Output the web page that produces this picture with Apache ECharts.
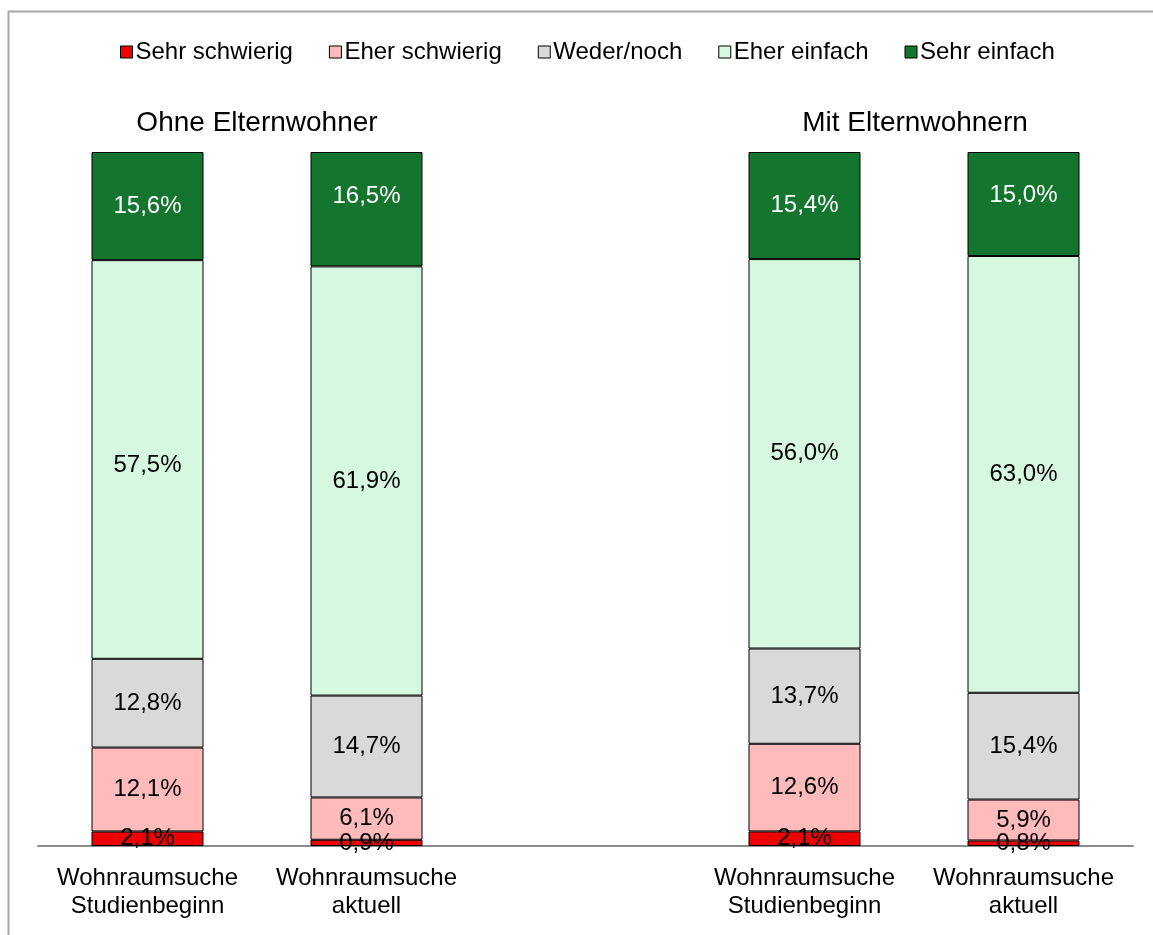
<!DOCTYPE html>
<html>
<head>
<meta charset="utf-8">
<script src="https://cdn.jsdelivr.net/npm/echarts@6/dist/echarts.min.js"></script>
<style>
  html, body { margin: 0; padding: 0; background: #fff; }
  #chart { width: 1153px; height: 935px; }
</style>
</head>
<body>
<div id="chart"></div>
<script>
// Kategorien (leere Kategorie = Lücke zwischen den Gruppen)
const categories = ['Wohnraumsuche\nStudienbeginn', 'Wohnraumsuche\naktuell', '', 'Wohnraumsuche\nStudienbeginn', 'Wohnraumsuche\naktuell']
const groupTitles = ['Ohne Elternwohner', 'Mit Elternwohnern']
const seriesNames = ['Sehr schwierig', 'Eher schwierig', 'Weder/noch', 'Eher einfach', 'Sehr einfach']

// Werte in % je Kategorie
const sehrSchwierig = [2.1, 0.9, null, 2.1, 0.8]
const eherSchwierig = [12.1, 6.1, null, 12.6, 5.9]
const wederNoch = [12.8, 14.7, null, 13.7, 15.4]
const eherEinfach = [57.5, 61.9, null, 56.0, 63.0]
const sehrEinfach = [15.6, 16.5, null, 15.4, 15.0]

const colors = ['#EE0000', '#FFBBBB', '#D9D9D9', '#D6F8E0', '#14762E']
const labelColors = ['#000', '#000', '#000', '#000', '#fff']

// kleine Verschiebungen einzelner Beschriftungen wie im Original (Serie-Kategorie: dy)
const labelShift = { '3-0': 6, '4-1': -13, '4-4': -9 }

const raw = [sehrSchwierig, eherSchwierig, wederNoch, eherEinfach, sehrEinfach]
// 100%-gestapelt: auf Summe normieren, Beschriftung zeigt Originalwert
const totals = categories.map((c, i) => raw.reduce((s, arr) => s + (arr[i] || 0), 0))

const fmt = v => v.toFixed(1).replace('.', ',') + '%'
const font = 'Liberation Sans, Arial, sans-serif'

const myChart = echarts.init(document.getElementById('chart'))

const option = {
  animation: false,
  textStyle: { fontFamily: font },
  title: [
    {
      text: groupTitles[0],
      left: 252,
      top: 104,
      textAlign: 'center',
      textStyle: { fontSize: 28, fontWeight: 'normal', color: '#000', fontFamily: font }
    },
    {
      text: groupTitles[1],
      left: 910,
      top: 104,
      textAlign: 'center',
      textStyle: { fontSize: 28, fontWeight: 'normal', color: '#000', fontFamily: font }
    }
  ],
  legend: {
    data: seriesNames,
    left: 115,
    top: 35,
    itemWidth: 12,
    itemHeight: 12,
    itemGap: 36,
    icon: 'rect',
    textStyle: { fontSize: 24, color: '#000', padding: [0, 0, 0, -2] },
    itemStyle: { borderColor: '#000', borderWidth: 1 }
  },
  grid: {
    left: 38,
    right: 20,
    top: 152,
    bottom: 89
  },
  xAxis: {
    type: 'category',
    data: categories,
    axisLine: { show: true, lineStyle: { color: '#8c8c8c', width: 2 } },
    axisTick: { show: false },
    axisLabel: {
      interval: 0,
      fontSize: 24,
      color: '#000',
      lineHeight: 28,
      margin: 18
    }
  },
  yAxis: {
    type: 'value',
    min: 0,
    max: 100,
    show: false,
    splitLine: { show: false }
  },
  graphic: [
    {
      type: 'rect',
      shape: { x: 8.5, y: 11.5, width: 1300, height: 1100 },
      style: { fill: 'none', stroke: '#a6a6a6', lineWidth: 2 },
      silent: true,
      z: -1
    }
  ],
  series: raw.map((arr, si) => ({
    name: seriesNames[si],
    type: 'bar',
    stack: 'total',
    barWidth: 112,
    data: arr.map((v, i) => v == null ? null : { value: v / totals[i] * 100, raw: v }),
    itemStyle: {
      color: colors[si],
      borderColor: '#000',
      borderWidth: 1
    },
    label: {
      show: true,
      position: 'inside',
      fontSize: 24,
      color: labelColors[si],
      fontFamily: font,
      formatter: p => fmt(p.data.raw)
    },
    labelLayout: params => ({
      hideOverlap: false,
      dy: labelShift[si + '-' + params.dataIndex] || 0
    }),
    z: 3
  }))
}

myChart.setOption(option)
</script>
</body>
</html>
